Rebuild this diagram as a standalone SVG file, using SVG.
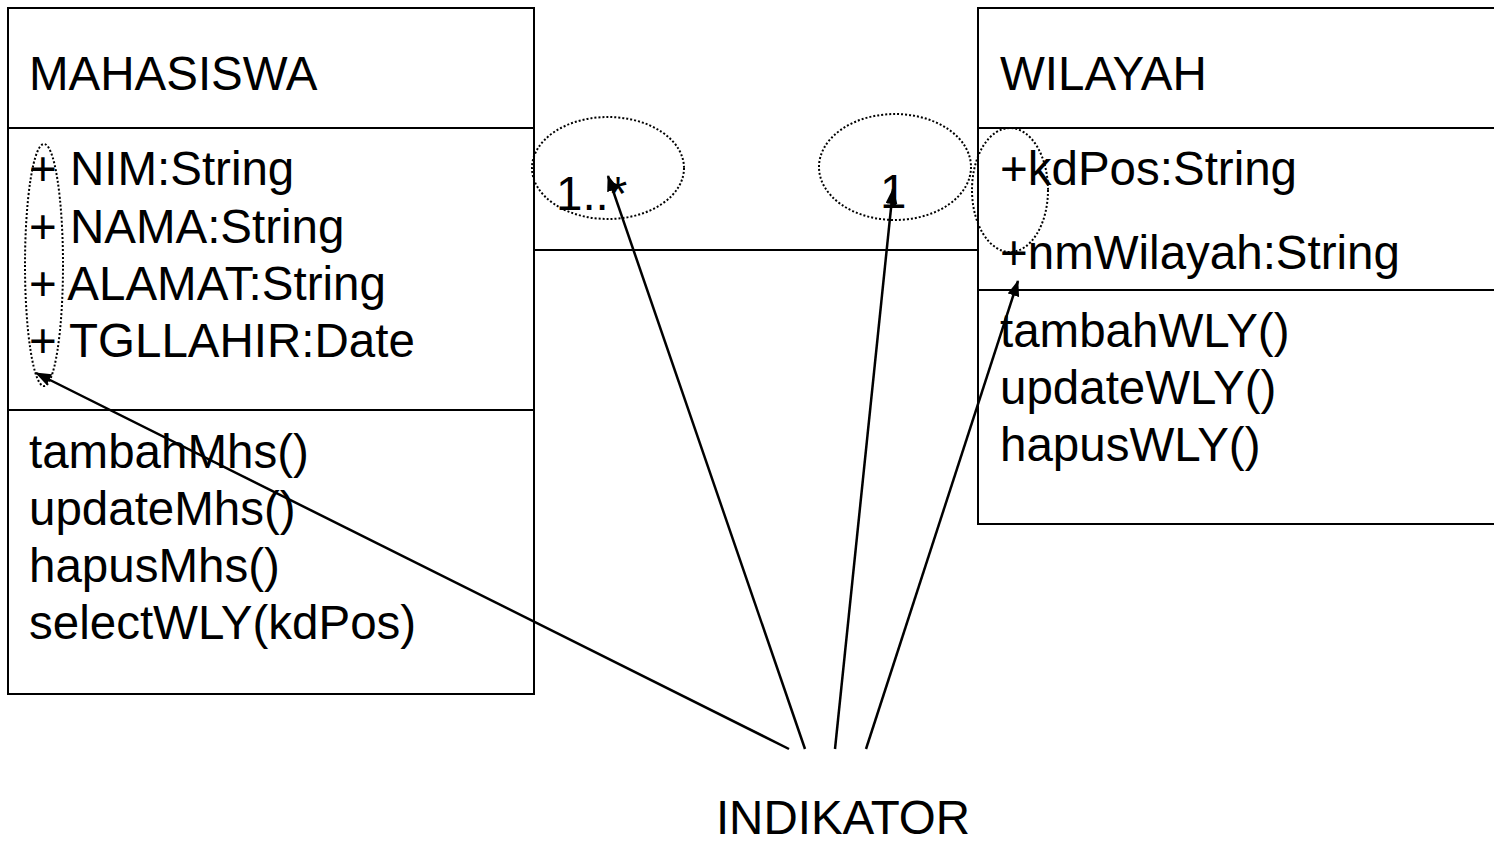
<svg xmlns="http://www.w3.org/2000/svg" width="1494" height="845" viewBox="0 0 1494 845">
  <style>
    .box { fill: #fff; stroke: #000; stroke-width: 2; }
    .div { stroke: #000; stroke-width: 2; }
    .t { font-family: "Liberation Sans", Arial, sans-serif; font-size: 47.5px; fill: #000; }
    .oval { fill: none; stroke: #000; stroke-width: 2; stroke-dasharray: 2 2; }
    .arr { stroke: #000; stroke-width: 2.5; fill: none; marker-end: url(#head); }
  </style>
  <defs>
    <marker id="head" viewBox="0 0 16 12" refX="15" refY="6" markerWidth="16" markerHeight="12" markerUnits="userSpaceOnUse" orient="auto">
      <path d="M0,0 L16,6 L0,12 Z" fill="#000"/>
    </marker>
  </defs>
  <rect width="1494" height="845" fill="#fff"/>

  <g id="mahasiswa">
    <rect class="box" x="8" y="8" width="526" height="686"/>
    <line class="div" x1="8" y1="128" x2="534" y2="128"/>
    <line class="div" x1="8" y1="410" x2="534" y2="410"/>
    <text class="t" x="29" y="90">MAHASISWA</text>
    <text class="t" x="29" y="185">+ NIM:String</text>
    <text class="t" x="29" y="243">+ NAMA:String</text>
    <text class="t" x="29" y="300">+ ALAMAT:String</text>
    <text class="t" x="29" y="357">+ TGLLAHIR:Date</text>
    <text class="t" x="29" y="468">tambahMhs()</text>
    <text class="t" x="29" y="525">updateMhs()</text>
    <text class="t" x="29" y="582">hapusMhs()</text>
    <text class="t" x="29" y="639">selectWLY(kdPos)</text>
  </g>

  <g id="wilayah">
    <rect class="box" x="978" y="8" width="530" height="516"/>
    <line class="div" x1="978" y1="128" x2="1494" y2="128"/>
    <line class="div" x1="978" y1="290" x2="1494" y2="290"/>
    <text class="t" x="1000" y="90">WILAYAH</text>
    <text class="t" x="1000" y="185">+kdPos:String</text>
    <text class="t" x="1000" y="269">+nmWilayah:String</text>
    <text class="t" x="1000" y="347">tambahWLY()</text>
    <text class="t" x="1000" y="404">updateWLY()</text>
    <text class="t" x="1000" y="461">hapusWLY()</text>
  </g>

  <g id="association">
    <line class="div" x1="534" y1="250" x2="978" y2="250"/>
    <text class="t" x="556" y="210">1..*</text>
    <text class="t" x="880" y="208">1</text>
  </g>

  <g id="highlights">
    <ellipse class="oval" cx="44" cy="265" rx="19" ry="121"/>
    <ellipse class="oval" cx="608" cy="168" rx="76" ry="51"/>
    <ellipse class="oval" cx="895" cy="167" rx="76" ry="53"/>
    <ellipse class="oval" cx="1010" cy="190" rx="38" ry="62"/>
  </g>

  <g id="indikator">
    <text class="t" x="843" y="834" text-anchor="middle">INDIKATOR</text>
  </g>

  <g id="connectors">
    <line class="arr" x1="789" y1="749" x2="36" y2="373"/>
    <line class="arr" x1="805" y1="749" x2="608" y2="176"/>
    <line class="arr" x1="835" y1="749" x2="893" y2="189"/>
    <line class="arr" x1="866" y1="749" x2="1018" y2="281"/>
  </g>
</svg>
